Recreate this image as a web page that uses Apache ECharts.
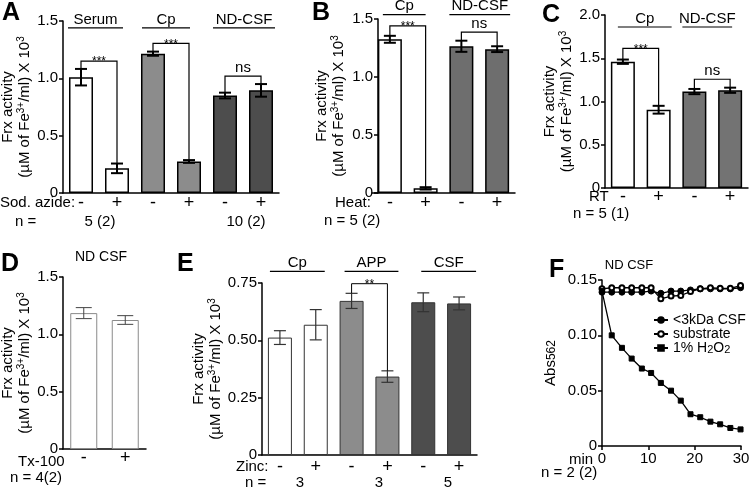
<!DOCTYPE html>
<html><head><meta charset="utf-8">
<script src="https://cdn.jsdelivr.net/npm/echarts@6/dist/echarts.min.js"></script>
<style>html,body{margin:0;padding:0;background:#fff}#c{width:750px;height:489px}</style>
</head><body><div id="c"></div>
<script>
// ---------- DATA ----------
const aCategories = ['-', '+', '-', '+', '-', '+'];
const aMeans = [1.01, 0.215, 1.215, 0.275, 0.85, 0.895];
const aErrors = [0.072, 0.042, 0.018, 0.012, 0.025, 0.055];
const aGroups = ['Serum', 'Cp', 'ND-CSF'];
const aGroupLevel = 1.44;
const aSignificance = [
  {from: 0, to: 1, level: 1.15, text: '***'},
  {from: 2, to: 3, level: 1.305, text: '***'},
  {from: 4, to: 5, level: 1.02, text: 'ns'}
];

const bCategories = ['-', '+', '-', '+'];
const bMeans = [1.325, 0.04, 1.265, 1.24];
const bErrors = [0.03, 0.01, 0.048, 0.025];
const bGroups = ['Cp', 'ND-CSF'];
const bGroupLevel = 1.537;
const bSignificance = [
  {from: 0, to: 1, level: 1.44, text: '***'},
  {from: 2, to: 3, level: 1.387, text: 'ns'}
];

const cCategories = ['-', '+', '-', '+'];
const cMeans = [1.46, 0.905, 1.115, 1.13];
const cErrors = [0.025, 0.045, 0.03, 0.03];
const cGroups = ['Cp', 'ND-CSF'];
const cGroupLevel = 1.861;
const cSignificance = [
  {from: 0, to: 1, level: 1.615, text: '***'},
  {from: 2, to: 3, level: 1.257, text: 'ns'}
];

const dCategories = ['-', '+'];
const dMeans = [1.185, 1.125];
const dErrors = [0.048, 0.038];

const eCategories = ['-', '+', '-', '+', '-', '+'];
const eMeans = [0.512, 0.568, 0.672, 0.342, 0.666, 0.661];
const eErrors = [0.03, 0.066, 0.033, 0.025, 0.041, 0.028];
const eGroups = ['Cp', 'APP', 'CSF'];
const eGroupLevel = 0.801;
const eSignificance = [
  {from: 2, to: 3, level: 0.747, text: '**'}
];

const fMinutes = [0, 2.1, 4.3, 6.4, 8.6, 10.6, 12.7, 14.9, 17, 19.1, 21.2, 23.4, 25.5, 27.7, 29.9];
const fCsf = [0.139, 0.139, 0.139, 0.139, 0.139, 0.140, 0.138, 0.140, 0.140, 0.141, 0.142, 0.142, 0.142, 0.142, 0.143];
const fSubstrate = [0.142, 0.143, 0.143, 0.143, 0.143, 0.143, 0.133, 0.1355, 0.136, 0.1395, 0.142, 0.143, 0.1425, 0.1425, 0.145];
const fH2O2 = [0.140, 0.100, 0.0887, 0.079, 0.070, 0.066, 0.057, 0.050, 0.041, 0.0287, 0.026, 0.022, 0.0196, 0.0163, 0.015];

// ---------- STYLE / LAYOUT ----------
const FONT = '"Liberation Sans", Arial, Helvetica, sans-serif';
const WHITE = '#ffffff', LIGHT = '#8c8c8c', DARK = '#4d4d4d', MID = '#6e6e6e';
const yName = 'Frx activity\n(\u00b5M of Fe{sup|3+}/ml) X 10{sup|3}';

const panels = [
  {cats: aCategories, means: aMeans, errs: aErrors, groups: aGroups, groupLevel: aGroupLevel, sig: aSignificance,
   L: {left: 63, top: 21, width: 216, height: 172, offset: 0, max: 1.5, interval: 0.5, digits: 1, nameGap: 25, barWidth: 24,
       colors: [WHITE, WHITE, LIGHT, LIGHT, DARK, DARK], border: '#000', borderWidth: 1.5, errColor: '#000', errWidth: 2, cap: 12, labelMargin: 1,
       gl: [-13, 6, -11, 1, -12, 14]}},
  {cats: bCategories, means: bMeans, errs: bErrors, groups: bGroups, groupLevel: bGroupLevel, sig: bSignificance,
   L: {left: 372, top: 19, width: 143, height: 174, offset: -6, max: 1.5, interval: 0.5, digits: 1, nameGap: 31, barWidth: 24,
       colors: [WHITE, WHITE, MID, MID], border: '#000', borderWidth: 1.5, errColor: '#000', errWidth: 2, cap: 12, labelMargin: 1,
       gl: [-7, 0, -12, 13]}},
  {cats: cCategories, means: cMeans, errs: cErrors, groups: cGroups, groupLevel: cGroupLevel, sig: cSignificance,
   L: {left: 605, top: 15, width: 143, height: 173, offset: 0, max: 2.0, interval: 0.5, digits: 1, nameGap: 30, barWidth: 24,
       colors: [WHITE, WHITE, '#737373', '#737373'], border: '#000', borderWidth: 1.5, errColor: '#000', errWidth: 2, cap: 12, labelMargin: 0,
       gl: [-5, 13, -12, 2]}},
  {cats: dCategories, means: dMeans, errs: dErrors, groups: null, sig: [],
   L: {left: 63, top: 277, width: 83, height: 172, offset: 0, max: 1.5, interval: 0.5, digits: 1, nameGap: 26, barWidth: 27,
       colors: [WHITE, WHITE], border: '#8a8a8a', borderWidth: 1, errColor: '#444', errWidth: 1, cap: 16, labelMargin: 0}},
  {cats: eCategories, means: eMeans, errs: eErrors, groups: eGroups, groupLevel: eGroupLevel, sig: eSignificance,
   L: {left: 262, top: 283, width: 215, height: 172, offset: 0, max: 0.75, interval: 0.25, digits: 2, nameGap: 33, barWidth: 24,
       colors: [WHITE, WHITE, LIGHT, LIGHT, DARK, DARK], border: '#333', borderWidth: 1, errColor: '#333', errWidth: 1.2, cap: 12, labelMargin: 3,
       gl: [-10, 9, -7, 11, -2, 17]}}
];

const option = {
  animation: false,
  backgroundColor: '#fff',
  textStyle: {fontFamily: FONT, color: '#000'},
  grid: [], xAxis: [], yAxis: [], series: [], graphic: []
};

function tickFormatter(digits) {
  return v => (v === 0 ? '0' : v.toFixed(digits));
}

panels.forEach((p, k) => {
  const L = p.L;
  option.grid.push({left: L.left, top: L.top, width: L.width, height: L.height, outerBoundsMode: 'none', containLabel: false});
  option.xAxis.push({
    gridIndex: k, type: 'category', data: p.cats,
    axisLine: {show: true, lineStyle: {color: '#000', width: 1.5}},
    axisTick: {show: false},
    axisLabel: {interval: 0, fontSize: 18, color: '#000', fontFamily: FONT, margin: L.labelMargin}
  });
  option.yAxis.push({
    gridIndex: k, type: 'value', min: 0, max: L.max, interval: L.interval, offset: L.offset,
    axisLine: {show: true, lineStyle: {color: '#000', width: 1.5}},
    axisTick: {show: true, length: 4, lineStyle: {color: '#000', width: 1.5}},
    splitLine: {show: false},
    axisLabel: {fontSize: 15, color: '#000', fontFamily: FONT, margin: 5, formatter: tickFormatter(L.digits)},
    name: yName, nameLocation: 'middle', nameRotate: 90, nameGap: L.nameGap,
    nameTextStyle: {fontSize: 15, lineHeight: 17, color: '#000', fontFamily: FONT,
      rich: {sup: {fontSize: 10, verticalAlign: 'top', color: '#000', fontFamily: FONT, lineHeight: 17}}}
  });
  // bars
  option.series.push({
    type: 'bar', xAxisIndex: k, yAxisIndex: k, barWidth: L.barWidth, silent: true, z: 2,
    itemStyle: {borderColor: L.border, borderWidth: L.borderWidth},
    data: p.means.map((m, i) => ({value: m, itemStyle: {color: L.colors[i]}}))
  });
  // error bars
  option.series.push({
    type: 'custom', xAxisIndex: k, yAxisIndex: k, silent: true, z: 4,
    data: p.means.map((m, i) => [i, m, p.errs[i]]),
    encode: {x: 0, y: 1},
    renderItem: (params, api) => {
      const i = api.value(0), m = api.value(1), e = api.value(2);
      const hi = api.coord([i, m + e]), lo = api.coord([i, m - e]);
      const w = L.cap / 2;
      const st = {stroke: L.errColor, lineWidth: L.errWidth};
      return {type: 'group', children: [
        {type: 'line', shape: {x1: hi[0], y1: hi[1], x2: lo[0], y2: lo[1]}, style: st},
        {type: 'line', shape: {x1: hi[0] - w, y1: hi[1], x2: hi[0] + w, y2: hi[1]}, style: st},
        {type: 'line', shape: {x1: lo[0] - w, y1: lo[1], x2: lo[0] + w, y2: lo[1]}, style: st}
      ]};
    }
  });
  // significance brackets
  if (p.sig.length) {
    option.series.push({
      type: 'custom', xAxisIndex: k, yAxisIndex: k, silent: true, z: 5,
      data: p.sig.map(s => [s.from, s.level, s.to, p.means[s.from] + p.errs[s.from], p.means[s.to] + p.errs[s.to]]),
      encode: {x: 0, y: 1},
      renderItem: (params, api) => {
        const s = p.sig[params.dataIndex];
        const i = api.value(0), lev = api.value(1), j = api.value(2), le = api.value(3), re = api.value(4);
        const p0 = api.coord([i, le]), p1 = api.coord([i, lev]), p2 = api.coord([j, lev]), p3 = api.coord([j, re]);
        const star = s.text.indexOf('*') >= 0;
        return {type: 'group', children: [
          {type: 'polyline', shape: {points: [p0, p1, p2, p3]}, style: {stroke: '#000', lineWidth: L.errWidth >= 2 ? 1.2 : 1, fill: null}},
          {type: 'text', style: {text: s.text, x: (p1[0] + p2[0]) / 2, y: star ? p1[1] + 1 : p1[1] - 1,
            align: 'center', verticalAlign: star ? 'middle' : 'bottom', textAlign: 'center', textVerticalAlign: star ? 'middle' : 'bottom',
            fontSize: star ? 12 : 15, fontFamily: FONT, fill: '#000'}}
        ]};
      }
    });
  }
  // group labels
  if (p.groups) {
    option.series.push({
      type: 'custom', xAxisIndex: k, yAxisIndex: k, silent: true, z: 5,
      data: p.groups.map((g, gi) => [2 * gi, p.groupLevel, 2 * gi + 1]),
      encode: {x: 0, y: 1},
      renderItem: (params, api) => {
        const gi = params.dataIndex;
        const i = api.value(0), lev = api.value(1), j = api.value(2);
        const a = api.coord([i, lev]), b = api.coord([j, lev]);
        const x1 = a[0] + L.gl[2 * gi], x2 = b[0] + L.gl[2 * gi + 1];
        return {type: 'group', children: [
          {type: 'line', shape: {x1: x1, y1: a[1], x2: x2, y2: a[1]}, style: {stroke: '#000', lineWidth: 1.2}},
          {type: 'text', style: {text: p.groups[gi], x: (x1 + x2) / 2, y: a[1] - 1,
            align: 'center', verticalAlign: 'bottom', textAlign: 'center', textVerticalAlign: 'bottom',
            fontSize: 15, fontFamily: FONT, fill: '#000'}}
        ]};
      }
    });
  }
});

// ---------- Panel F (line chart) ----------
const fk = panels.length;
option.grid.push({left: 602, top: 280, width: 139, height: 166, outerBoundsMode: 'none', containLabel: false});
option.xAxis.push({
  gridIndex: fk, type: 'value', min: 0, max: 30, interval: 10,
  axisLine: {show: true, lineStyle: {color: '#000', width: 1.5}},
  axisTick: {show: true, length: 4, lineStyle: {color: '#000', width: 1.5}},
  splitLine: {show: false},
  axisLabel: {fontSize: 15, color: '#000', fontFamily: FONT, margin: 5}
});
option.yAxis.push({
  gridIndex: fk, type: 'value', min: 0, max: 0.15, interval: 0.05,
  axisLine: {show: true, lineStyle: {color: '#000', width: 1.5}},
  axisTick: {show: true, length: 4, lineStyle: {color: '#000', width: 1.5}},
  splitLine: {show: false},
  axisLabel: {fontSize: 15, color: '#000', fontFamily: FONT, margin: 5, formatter: tickFormatter(2)},
  name: 'Abs{sub|562}', nameLocation: 'middle', nameRotate: 90, nameGap: 44,
  nameTextStyle: {fontSize: 15, color: '#000', fontFamily: FONT,
    rich: {sub: {fontSize: 12, verticalAlign: 'bottom', color: '#000', fontFamily: FONT}}}
});
const fSeries = [
  {name: '<3kDa CSF', values: fCsf, symbol: 'circle', size: 6},
  {name: 'substrate', values: fSubstrate, symbol: 'emptyCircle', size: 5},
  {name: '1% H2O2', values: fH2O2, symbol: 'rect', size: 5}
];
fSeries.forEach(s => {
  option.series.push({
    type: 'line', name: s.name, xAxisIndex: fk, yAxisIndex: fk, silent: true,
    symbol: s.symbol, symbolSize: s.size, showSymbol: true,
    lineStyle: {color: '#000', width: 1.3},
    itemStyle: {color: '#000', borderColor: '#000', borderWidth: 1},
    data: fMinutes.map((t, i) => [t, s.values[i]])
  });
});
option.legend = {
  orient: 'vertical', left: 653, top: 313, itemWidth: 14, itemHeight: 7, itemGap: 0, padding: 0,
  data: fSeries.map(s => s.name),
  formatter: n => (n === '1% H2O2' ? '1% H{s|2}O{s|2}' : n),
  textStyle: {fontSize: 14, color: '#000', fontFamily: FONT, lineHeight: 12,
    rich: {s: {fontSize: 11, verticalAlign: 'bottom', color: '#000', fontFamily: FONT, lineHeight: 14}}}
};

// ---------- Free text labels ----------
function txt(text, x, y, opts) {
  opts = opts || {};
  return {type: 'text', x: x, y: y, silent: true, z: 10, style: {
    text: text, fontSize: opts.size || 15, fontWeight: opts.weight || 'normal', fontFamily: FONT, fill: '#000',
    align: opts.align || 'left', textAlign: opts.align || 'left', verticalAlign: 'middle', textVerticalAlign: 'middle'}};
}
option.graphic = [
  txt('A', 2, 13, {size: 25, weight: 'bold'}),
  txt('B', 312, 13, {size: 25, weight: 'bold'}),
  txt('C', 542, 15, {size: 25, weight: 'bold'}),
  txt('D', 1, 264, {size: 25, weight: 'bold'}),
  txt('E', 177, 264, {size: 25, weight: 'bold'}),
  txt('F', 549, 270, {size: 25, weight: 'bold'}),
  txt('Sod. azide:', 0, 203),
  txt('n =', 15, 222),
  txt('5 (2)', 100, 222, {align: 'center'}),
  txt('10 (2)', 246, 222, {align: 'center'}),
  txt('Heat:', 335, 203),
  txt('n = 5 (2)', 324, 221),
  txt('RT', 589, 197),
  txt('n = 5 (1)', 573, 214),
  txt('ND CSF', 101, 257, {align: 'center', size: 14}),
  txt('Tx-100', 18, 462),
  txt('n = 4(2)', 10, 478),
  txt('Zinc:', 236, 467),
  txt('n =', 245, 483),
  txt('3', 300, 483, {align: 'center'}),
  txt('3', 379, 483, {align: 'center'}),
  txt('5', 448, 483, {align: 'center'}),
  txt('ND CSF', 629, 265, {align: 'center', size: 13}),
  txt('min', 569, 460),
  txt('n = 2 (2)', 541, 473)
];

const chart = echarts.init(document.getElementById('c'), null, {renderer: 'canvas', width: 750, height: 489});
chart.setOption(option);
</script>
</body></html>
